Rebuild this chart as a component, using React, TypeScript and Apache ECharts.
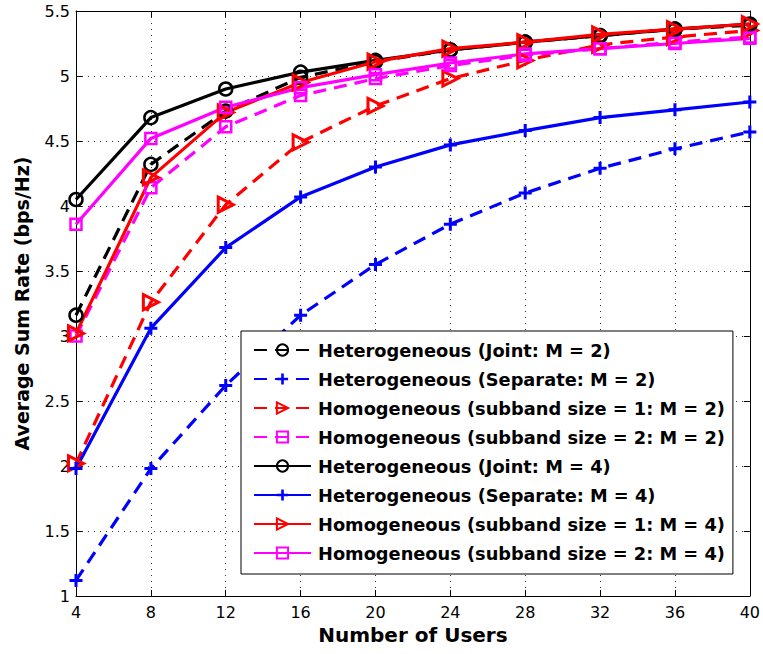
import React, { useEffect, useRef } from "react";
import * as echarts from "echarts";

const users = [4, 8, 12, 16, 20, 24, 28, 32, 36, 40];
const jointM2 = [3.16, 4.32, 4.73, 4.99, 5.11, 5.2, 5.26, 5.31, 5.36, 5.39];
const separateM2 = [1.12, 1.98, 2.62, 3.16, 3.55, 3.86, 4.1, 4.29, 4.44, 4.57];
const sub1M2 = [2.02, 3.26, 4.01, 4.49, 4.77, 4.98, 5.12, 5.24, 5.3, 5.35];
const sub2M2 = [3.0, 4.14, 4.61, 4.85, 4.98, 5.08, 5.16, 5.21, 5.26, 5.3];
const jointM4 = [4.05, 4.68, 4.9, 5.03, 5.12, 5.2, 5.26, 5.31, 5.36, 5.4];
const separateM4 = [1.98, 3.06, 3.68, 4.07, 4.3, 4.47, 4.58, 4.68, 4.74, 4.8];
const sub1M4 = [3.02, 4.22, 4.72, 4.95, 5.11, 5.21, 5.26, 5.32, 5.36, 5.4];
const sub2M4 = [3.86, 4.52, 4.76, 4.91, 5.01, 5.1, 5.17, 5.21, 5.25, 5.29];

const names = [
  "Heterogeneous (Joint: M = 2)",
  "Heterogeneous (Separate: M = 2)",
  "Homogeneous (subband size = 1: M = 2)",
  "Homogeneous (subband size = 2: M = 2)",
  "Heterogeneous (Joint: M = 4)",
  "Heterogeneous (Separate: M = 4)",
  "Homogeneous (subband size = 1: M = 4)",
  "Homogeneous (subband size = 2: M = 4)",
];

const FONT = "'DejaVu Sans', 'Liberation Sans', Arial, sans-serif";

const PLUS = "path://M4.6,0 H7.4 V4.6 H12 V7.4 H7.4 V12 H4.6 V7.4 H0 V4.6 H4.6 Z";
const TRI = "path://M0,0 L12,6 L0,12 Z";

type Kind = "circle" | "plus" | "tri" | "square";

function mk(name: string, data: number[], color: string, dashed: boolean, kind: Kind) {
  let symbol = "circle";
  let size = 13;
  let itemStyle: any = { color: "rgba(255,255,255,0)", borderColor: color, borderWidth: 2.5 };
  if (kind === "plus") {
    symbol = PLUS;
    size = 13;
    itemStyle = { color, borderWidth: 0 };
  } else if (kind === "tri") {
    symbol = TRI;
    size = 15;
    itemStyle = { color: "rgba(255,255,255,0)", borderColor: color, borderWidth: 3 };
  } else if (kind === "square") {
    symbol = "rect";
    size = 11;
  }
  return {
    name,
    type: "line",
    data: users.map((u, i) => [u, data[i]]),
    symbol,
    symbolSize: size,
    showAllSymbol: true,
    lineStyle: { color, width: 3.2, type: dashed ? [13, 8] : "solid" },
    itemStyle,
    emphasis: { disabled: true },
  };
}

export default function App() {
  const ref = useRef<HTMLDivElement>(null);
  useEffect(() => {
    if (!ref.current) return;
    const chart = echarts.init(ref.current, undefined, { renderer: "svg" });
    const axisCommon = {
      type: "value" as const,
      axisLine: { show: true, lineStyle: { color: "#000", width: 1 } },
      axisTick: { show: true, inside: true, length: 6, lineStyle: { color: "#000" } },
    };
    chart.setOption({
      animation: false,
      backgroundColor: "#fff",
      grid: { left: 76, right: 11, top: 11, bottom: 58, show: false },
      xAxis: [
        {
          ...axisCommon,
          min: 4,
          max: 40,
          interval: 4,
          name: "Number of Users",
          nameLocation: "middle",
          nameGap: 29,
          nameTextStyle: { fontFamily: FONT, fontWeight: "bold", fontSize: 20, color: "#000" },
          axisLabel: { fontFamily: FONT, fontSize: 16, color: "#000", margin: 8 },
          splitLine: { show: true, lineStyle: { color: "#333", type: [1, 5], width: 1 } },
        },
        {
          ...axisCommon,
          position: "top",
          min: 4,
          max: 40,
          interval: 4,
          axisLabel: { show: false },
          splitLine: { show: false },
        },
      ],
      yAxis: [
        {
          ...axisCommon,
          min: 1,
          max: 5.5,
          interval: 0.5,
          name: "Average Sum Rate (bps/Hz)",
          nameLocation: "middle",
          nameGap: 45,
          nameTextStyle: { fontFamily: FONT, fontWeight: "bold", fontSize: 19, color: "#000" },
          axisLabel: { fontFamily: FONT, fontSize: 16, color: "#000", margin: 6 },
          splitLine: { show: true, lineStyle: { color: "#333", type: [1, 5], width: 1 } },
        },
        {
          ...axisCommon,
          position: "right",
          min: 1,
          max: 5.5,
          interval: 0.5,
          axisLabel: { show: false },
          splitLine: { show: false },
        },
      ],
      legend: {
        orient: "vertical",
        left: 241,
        top: 331,
        data: names,
        itemWidth: 57,
        itemHeight: 14,
        itemGap: 9,
        padding: [9, 8, 11, 12],
        backgroundColor: "#fff",
        borderColor: "#000",
        borderWidth: 1,
        borderRadius: 0,
        selectedMode: false,
        textStyle: {
          fontFamily: FONT,
          fontWeight: "bold",
          fontSize: 17.8,
          lineHeight: 20,
          color: "#000",
          padding: [0, 0, 0, 2],
        },
      },
      series: [
        mk(names[0], jointM2, "#000000", true, "circle"),
        mk(names[1], separateM2, "#0000ff", true, "plus"),
        mk(names[2], sub1M2, "#ff0000", true, "tri"),
        mk(names[3], sub2M2, "#ff00ff", true, "square"),
        mk(names[4], jointM4, "#000000", false, "circle"),
        mk(names[5], separateM4, "#0000ff", false, "plus"),
        mk(names[6], sub1M4, "#ff0000", false, "tri"),
        mk(names[7], sub2M4, "#ff00ff", false, "square"),
      ],
    });
    return () => chart.dispose();
  }, []);
  return (
    <div
      ref={ref}
      style={{ position: "absolute", left: 0, top: 0, width: 763, height: 654 }}
    />
  );
}
